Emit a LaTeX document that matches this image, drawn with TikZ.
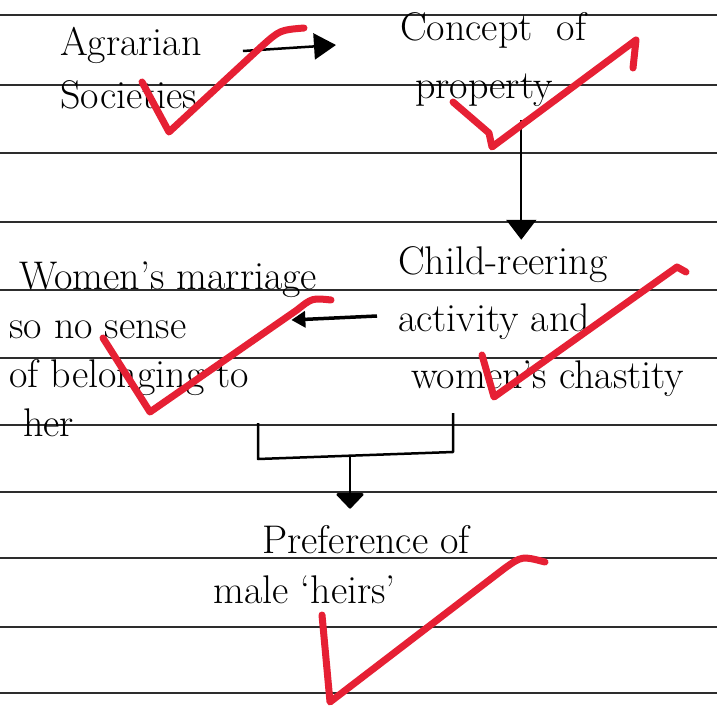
\documentclass[tikz,border=0pt]{standalone}
\usetikzlibrary{arrows.meta,positioning}
\definecolor{tickred}{RGB}{230,32,52}
\definecolor{ruleline}{RGB}{45,45,45}

\begin{document}
\begin{tikzpicture}[x=1pt,y=-1pt,
    txt/.style={anchor=west,inner sep=0pt,align=left,font=\fontsize{40}{53}\selectfont},
    arr/.style={-{Triangle[length=22pt,width=26pt]},line width=2.5pt},
    bracket/.style={line width=2.5pt,line join=round},
    tick/.style={draw=tickred,line width=7pt,line cap=round,line join=round}]
    \useasboundingbox (0,0) rectangle (717,706);
    \fill[white] (0,0) rectangle (717,706);

    % ruled paper
    \foreach \ly in {15,85,153,222,290,358,425,492,558,627,693}
        \draw[ruleline,line width=1.4pt] (0,\ly) -- (717,\ly);

    \node[txt] (agr) at (60,68) {Agrarian\\Societies};
    \node[txt,font=\fontsize{40}{58}\selectfont] (con) at (400,60) {Concept\ \ of\\\hspace*{15pt}property};
    \node[txt,font=\fontsize{40}{49}\selectfont] (wom) at (9,349) {\hspace*{10pt}Women\textquoteright s marriage\\so no sense\\of belonging to\\\hspace*{14pt}her};
    \node[txt,font=\fontsize{40}{57}\selectfont] (chi) at (398,322) {Child-reering\\activity and\\\hspace*{13pt}women\textquoteright s chastity};
    \node[txt,font=\fontsize{40}{50}\selectfont] (pre) at (213,565) {\hspace*{49pt}Preference of\\male \textquoteleft heirs\textquoteright};

    \draw[arr] ([xshift=41pt,yshift=17pt]agr.east) -- ([xshift=-64pt,yshift=15pt]con.west);
    \draw[arr,line width=2pt,-{Triangle[length=20pt,width=30pt]},shorten >=7pt] ([xshift=28pt,yshift=-13pt]con.south) -- ([xshift=28pt]con.south |- chi.north);
    \draw[arr,line width=3.5pt,-{Triangle[length=14pt,width=16pt]}] ([xshift=-21pt,yshift=6pt]chi.west) -- ([xshift=-26pt,yshift=29pt]wom.east);

    % bracket joining both
    \coordinate (blt) at (258,423);
    \coordinate (bl) at (258,459);
    \coordinate (br) at (453,452);
    \coordinate (brt) at (453,413);
    \coordinate (bm) at (350,457);
    \draw[bracket] (blt) -- (bl) -- (br) -- (brt);
    \draw[arr,-{Triangle[length=16pt,width=30pt,round]},shorten >=17pt] (bm) -- (bm |- pre.north);

    % red ticks
    \draw[tick] (142,82) -- (169,132) -- (262,46) .. controls (280,30) .. (304,28);
    \draw[tick] (453,102) -- (489,133) -- (492,147) -- (636,40) -- (633,68);
    \draw[tick] (103,338) -- (150,412) -- (297,310) .. controls (312,298) .. (331,300);
    \draw[tick] (482,355) -- (494,397) -- (677,267) -- (686,272);
    \draw[tick] (322,615) -- (330,702) -- (505,568) .. controls (522,556) .. (545,562);
\end{tikzpicture}
\end{document}
